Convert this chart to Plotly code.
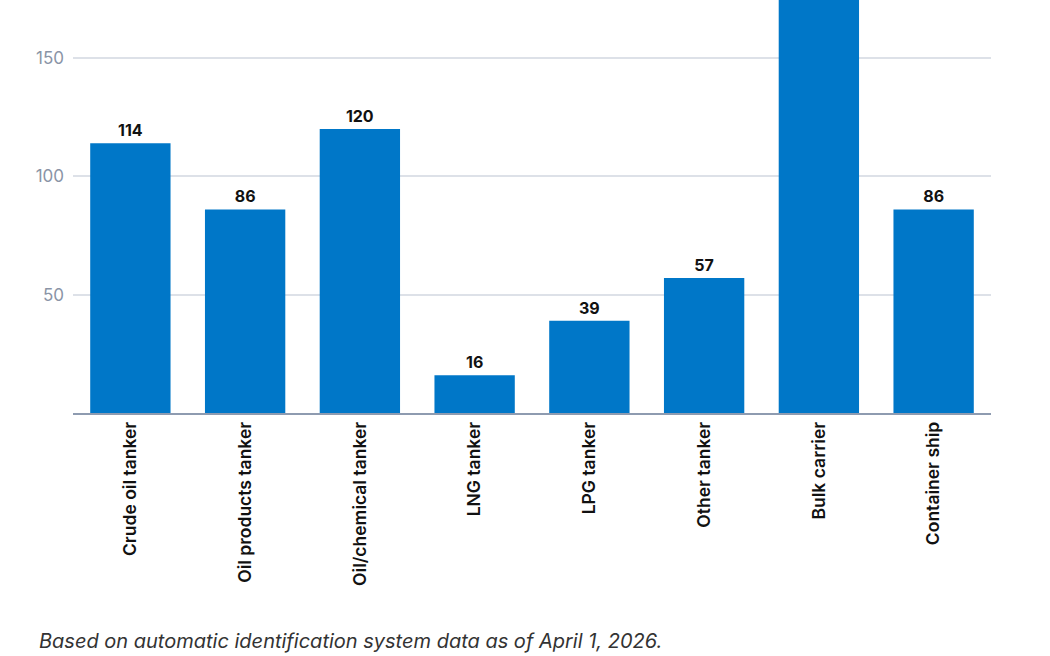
import plotly.graph_objects as go

categories = ["Crude oil tanker", "Oil products tanker", "Oil/chemical tanker", "LNG tanker",
              "LPG tanker", "Other tanker", "Bulk carrier", "Container ship"]
vessels = [114, 86, 120, 16, 39, 57, 199, 86]
y_ticks = [50, 100, 150]
y_max = 174.5
caption = "Based on automatic identification system data as of April 1, 2026."

# labels of bars that run past the top of the axis are clipped away in the reference
labels = [str(v) if v <= y_max else "" for v in vessels]

fig = go.Figure(go.Bar(
    x=categories, y=vessels,
    marker=dict(color="#0077c8", line=dict(width=0)),
    text=labels, textposition="outside",
    textfont=dict(family="Inter", size=16, color="#111111", weight="bold"),
    cliponaxis=True,
    hoverinfo="skip",
))

fig.update_layout(
    width=1050, height=656,
    margin=dict(l=73, r=59, t=0, b=243),
    paper_bgcolor="white", plot_bgcolor="white",
    bargap=0.3, showlegend=False,
    font=dict(family="Inter"),
    xaxis=dict(
        tickangle=-90, showgrid=False, showline=True, linecolor="#8e9bb0", linewidth=1.5,
        ticks="", tickfont=dict(family="Inter", size=17.5, color="#111111", weight=600),
    ),
    yaxis=dict(
        range=[0, y_max], tickvals=y_ticks, showgrid=True, gridcolor="#dde1e8", gridwidth=1.5,
        zeroline=False, showline=False, ticks="", ticklabelstandoff=8,
        tickfont=dict(family="Inter", size=17, color="#8a94a6"),
    ),
    annotations=[dict(
        text=caption, xref="paper", yref="paper", x=(37 - 73) / 918, y=-(641 - 413) / 413,
        xanchor="left", yanchor="middle", showarrow=False,
        font=dict(family="Inter", size=20, color="#333333", style="italic"),
    )],
)

fig.write_html("out.html", config={"displayModeBar": False},
               post_script="document.body.style.margin='0';")
